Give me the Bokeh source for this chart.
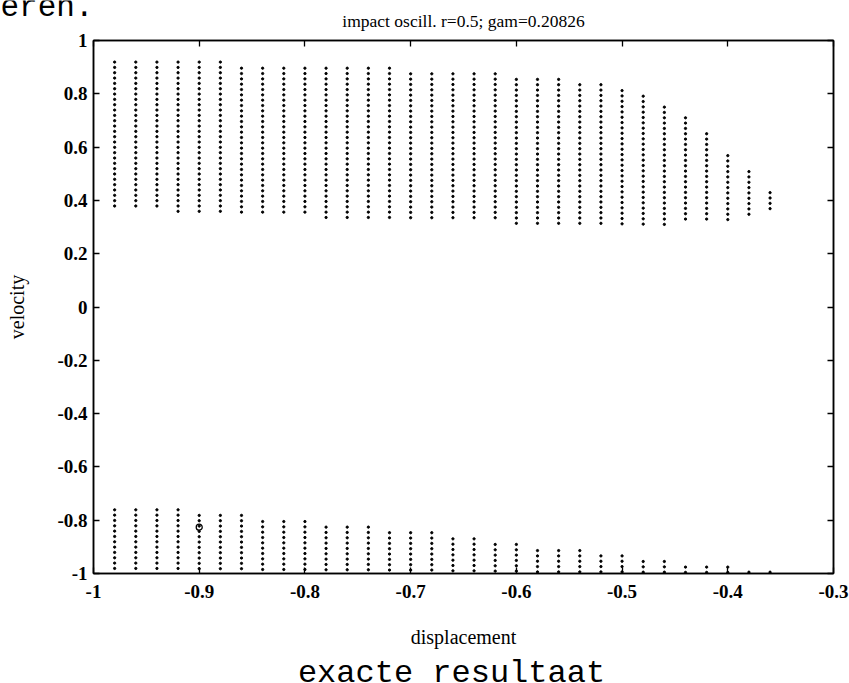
import numpy as np
from bokeh.plotting import figure
from bokeh.layouts import column
from bokeh.models import LinearAxis, FixedTicker, Range1d
from bokeh.core.properties import value
from bokeh.embed import file_html
from bokeh.resources import INLINE

# ---------------- data ----------------
x_cols = [-0.98, -0.96, -0.94, -0.92, -0.90, -0.88, -0.86, -0.84, -0.82, -0.80,
          -0.78, -0.76, -0.74, -0.72, -0.70, -0.68, -0.66, -0.64, -0.62, -0.60,
          -0.58, -0.56, -0.54, -0.52, -0.50, -0.48, -0.46, -0.44, -0.42, -0.40,
          -0.38, -0.36]

upper_top = [0.919, 0.919, 0.919, 0.919, 0.919, 0.919, 0.896, 0.896, 0.896, 0.896,
             0.896, 0.896, 0.896, 0.896, 0.875, 0.875, 0.875, 0.875, 0.875, 0.854,
             0.854, 0.854, 0.834, 0.834, 0.812, 0.791, 0.750, 0.710, 0.650, 0.568,
             0.508, 0.429]
upper_bottom = [0.378, 0.378, 0.378, 0.358, 0.358, 0.358, 0.356, 0.356, 0.356, 0.356,
                0.336, 0.336, 0.336, 0.336, 0.335, 0.335, 0.335, 0.335, 0.335, 0.314,
                0.314, 0.314, 0.314, 0.314, 0.312, 0.311, 0.310, 0.330, 0.330, 0.328,
                0.348, 0.369]

lower_top = [-0.761, -0.761, -0.761, -0.761, -0.782, -0.782, -0.782, -0.805, -0.805, -0.805,
             -0.826, -0.826, -0.826, -0.847, -0.847, -0.847, -0.870, -0.870, -0.891, -0.891,
             -0.914, -0.914, -0.914, -0.934, -0.934, -0.955, -0.955, -0.976, -0.976, -0.976,
             -0.995, -0.995]
lower_bottom = [-0.981, -0.981, -0.981, -0.981, -0.982, -0.982, -0.982, -0.985, -0.985, -0.985,
                -0.986, -0.986, -0.986, -0.987, -0.987, -0.987, -0.990, -0.990, -0.991, -0.991,
                -0.994, -0.994, -0.994, -0.994, -0.994, -0.995, -0.995, -0.996, -0.996, -0.996,
                -0.995, -0.995]

velocity_step = 0.02          # spacing of the dots along each column

marked_x = [-0.90]
marked_v = [-0.826]

x_ticks = [-1.0, -0.9, -0.8, -0.7, -0.6, -0.5, -0.4, -0.3]
x_tick_labels = ["-1", "-0.9", "-0.8", "-0.7", "-0.6", "-0.5", "-0.4", "-0.3"]
y_ticks = [-1.0, -0.8, -0.6, -0.4, -0.2, 0.0, 0.2, 0.4, 0.6, 0.8, 1.0]
y_tick_labels = ["-1", "-0.8", "-0.6", "-0.4", "-0.2", "0", "0.2", "0.4", "0.6", "0.8", "1"]

title_text = "impact oscill. r=0.5; gam=0.20826"
x_label = "displacement"
y_label = "velocity"
caption = "exacte resultaat"
fragment = "eren."

# ---------------- build dot columns ----------------
def columns_to_points(xs, tops, bottoms, step):
    px, pv = [], []
    for x, t, b in zip(xs, tops, bottoms):
        n = int(round((t - b) / step)) + 1
        for k in range(n):
            px.append(x)
            pv.append(t - step * k)
    return px, pv

ux, uv = columns_to_points(x_cols, upper_top, upper_bottom, velocity_step)
lx, lv = columns_to_points(x_cols, lower_top, lower_bottom, velocity_step)

SERIF = "Liberation Serif"
MONO = "Liberation Mono"
W = 849
HEAD_H = 31
FOOT_H = 28
MAIN_H = 683 - HEAD_H - FOOT_H


def text_strip(h):
    f = figure(width=W, height=h, output_backend="svg", toolbar_location=None, tools="",
               x_range=Range1d(0, W), y_range=Range1d(h, 0),
               x_axis_location=None, y_axis_location=None, title_location=None,
               min_border=0, frame_align=False)
    f.outline_line_color = None
    f.xgrid.visible = False
    f.ygrid.visible = False
    f.background_fill_color = "white"
    f.border_fill_color = "white"
    return f

# ---- header strip: cut-off page fragment and plot title ----
head = text_strip(HEAD_H)
head.text(x=[0], y=[7], text=[fragment], text_font=value(MONO), text_font_size="31px",
          text_align="left", text_baseline="alphabetic", text_color="black")
head.text(x=[463], y=[20], text=[title_text], text_font=value(SERIF),
          text_font_size="17.5px", text_align="center", text_baseline="alphabetic",
          text_color="black")

# ---- main plot ----
p = figure(width=W, height=MAIN_H, output_backend="svg", toolbar_location=None, tools="",
           x_range=Range1d(-1.0, -0.3), y_range=Range1d(-1.0, 1.0),
           title_location=None, frame_align=False,
           min_border_left=93, min_border_right=16, min_border_top=9,
           min_border_bottom=82)

p.background_fill_color = "white"
p.border_fill_color = "white"
p.outline_line_color = "black"
p.outline_line_width = 1.5
p.xgrid.visible = False
p.ygrid.visible = False

p.scatter(ux, uv, marker="circle", size=2.3, color="black")
p.scatter(lx, lv, marker="circle", size=2.3, color="black")
p.scatter(marked_x, marked_v, marker="circle", size=6, fill_color=None,
          line_color="black", line_width=1.3)

xo = {float(v): s for v, s in zip(x_ticks, x_tick_labels)}
yo = {float(v): s for v, s in zip(y_ticks, y_tick_labels)}

def style_axis(ax, labels=True):
    ax.axis_line_color = "black"
    ax.axis_line_width = 1.5
    ax.major_tick_in = 6
    ax.major_tick_out = 0
    ax.major_tick_line_color = "black"
    ax.major_tick_line_width = 1.3
    ax.minor_tick_line_color = None
    ax.major_label_text_font = SERIF
    ax.major_label_text_font_style = "bold"
    ax.major_label_text_font_size = "19px"
    ax.major_label_text_color = "black"
    if not labels:
        ax.major_label_text_font_size = "0px"
        ax.major_label_text_color = None
        ax.major_label_standoff = 0

xa = p.xaxis[0]
xa.ticker = FixedTicker(ticks=x_ticks)
xa.major_label_overrides = xo
style_axis(xa)
xa.major_label_standoff = 11
xa.axis_label = x_label
xa.axis_label_text_font = SERIF
xa.axis_label_text_font_style = "normal"
xa.axis_label_text_font_size = "20px"
xa.axis_label_text_color = "black"
xa.axis_label_standoff = 25

ya = p.yaxis[0]
ya.ticker = FixedTicker(ticks=y_ticks)
ya.major_label_overrides = yo
style_axis(ya)
ya.major_label_standoff = 6
ya.axis_label = y_label
ya.axis_label_text_font = SERIF
ya.axis_label_text_font_style = "normal"
ya.axis_label_text_font_size = "20px"
ya.axis_label_text_color = "black"
ya.axis_label_standoff = 26

top_ax = LinearAxis(ticker=FixedTicker(ticks=x_ticks))
style_axis(top_ax, labels=False)
p.add_layout(top_ax, "above")
right_ax = LinearAxis(ticker=FixedTicker(ticks=y_ticks))
style_axis(right_ax, labels=False)
p.add_layout(right_ax, "right")

# ---- footer strip: caption ----
foot = text_strip(FOOT_H)
foot.text(x=[451], y=[18], text=[caption], text_font=value(MONO), text_font_size="32px",
          text_align="center", text_baseline="alphabetic", text_color="black")

layout = column(head, p, foot, spacing=0)
open("out.html", "w").write(file_html(layout, INLINE))
